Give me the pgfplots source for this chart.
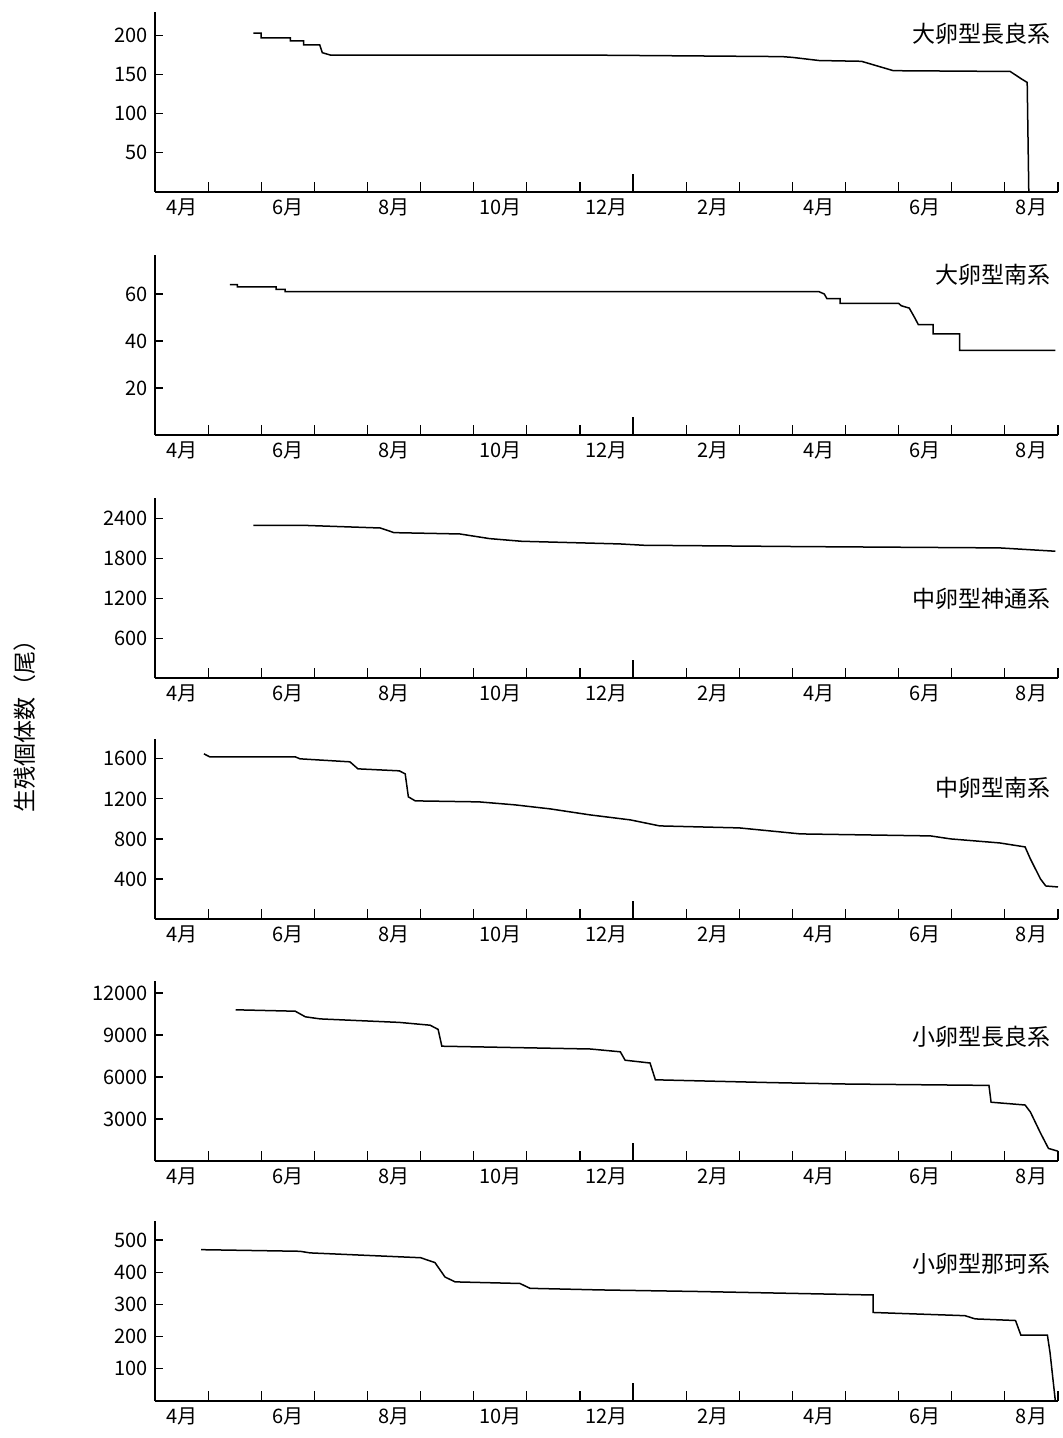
\documentclass[border=0pt]{standalone}
\usepackage{pgfplots}
\pgfplotsset{compat=1.18}
\usepackage{fontspec}
\setmainfont{Noto Sans CJK JP}
\pgfplotsset{panel/.style={
  scale only axis, width=451.5pt, height=90pt,
  xmin=0, xmax=17, ymin=0,
  axis x line=bottom, axis y line=left, axis line style={-, line width=0.6pt},
  tick align=inside, tick style={black, line width=0.6pt},
  xtick={0.5,2.5,4.5,6.5,8.5,10.5,12.5,14.5,16.5},
  xticklabels={4月,6月,8月,10月,12月,2月,4月,6月,8月},
  major x tick style={draw=none},
  minor xtick={0,1,...,17},
  minor tick length=5pt,
  major tick length=4pt,
  scaled y ticks=false,
  /pgf/number format/assume math mode=true,
  /pgf/number format/1000 sep={},
  ticklabel style={font=\fontsize{10}{12}\selectfont},
}}
\tikzset{ln/.style={black, line width=0.75pt, mark=none}}
\newcommand{\lab}[2]{\node[anchor=east,font=\fontsize{11.5}{13}\selectfont] at (rel axis cs:1,#1) {#2};}
\newcommand{\tall}{\draw[line width=0.6pt] (axis cs:9,0) -- ++(0,9pt);}
\begin{document}
\begin{tikzpicture}
\begin{axis}[panel, at={(0,0)}, ymax=230, ytick={50,100,150,200}]
\addplot[ln] coordinates {(1.85,203)(2.0,203)(2.0,197)(2.55,197)(2.55,193)(2.8,193)(2.8,188)(3.1,188)(3.15,178)(3.3,175)(8,175)(11.8,173)(12.0,172)(12.5,168)(13.3,167)(13.65,160)(13.9,155)(16.1,154)(16.3,145)(16.42,140)(16.45,0)};
\lab{0.88}{大卵型長良系}\tall
\end{axis}
\begin{axis}[panel, at={(0,-121.5pt)}, ymax=76.6, ytick={20,40,60}]
\addplot[ln] coordinates {(1.41,64)(1.55,64)(1.55,63)(2.28,63)(2.28,62)(2.45,62)(2.45,61)(12.5,61)(12.6,60)(12.65,58)(12.9,58)(12.9,56)(14.0,56)(14.05,55)(14.2,54)(14.3,50)(14.37,47)(14.65,47)(14.65,43)(15.15,43)(15.15,36)(16.95,36)};
\lab{0.89}{大卵型南系}\tall
\end{axis}
\begin{axis}[panel, at={(0,-243pt)}, ymax=2712, ytick={600,1200,1800,2400}]
\addplot[ln] coordinates {(1.85,2300)(2.8,2300)(4.24,2260)(4.5,2190)(5.74,2170)(6.3,2100)(6.9,2060)(8.75,2020)(9.2,2000)(12.15,1980)(15.9,1960)(16.95,1910)};
\lab{0.44}{中卵型神通系}\tall
\end{axis}
\begin{axis}[panel, at={(0,-363.5pt)}, ymax=1798, ytick={400,800,1200,1600}]
\addplot[ln] coordinates {(0.92,1650)(1.03,1620)(2.64,1620)(2.73,1600)(3.67,1570)(3.82,1500)(4.6,1480)(4.71,1450)(4.77,1220)(4.9,1180)(6.1,1170)(6.78,1140)(7.44,1100)(8.19,1040)(8.95,990)(9.5,930)(11.0,910)(11.77,870)(12.15,850)(14.6,830)(14.98,800)(15.9,760)(16.38,720)(16.48,600)(16.67,400)(16.77,330)(17.0,320)};
\lab{0.73}{中卵型南系}\tall
\end{axis}
\begin{axis}[panel, at={(0,-484.5pt)}, ymax=12857, ytick={3000,6000,9000,12000}]
\addplot[ln] coordinates {(1.52,10800)(2.64,10700)(2.83,10300)(3.11,10150)(4.6,9900)(5.18,9700)(5.33,9400)(5.4,8200)(8.2,8000)(8.76,7800)(8.85,7200)(9.32,7000)(9.42,5800)(11.6,5600)(13.0,5500)(15.7,5400)(15.74,4200)(16.38,4000)(16.48,3500)(16.67,2000)(16.82,900)(17.0,700)};
\lab{0.69}{小卵型長良系}\tall
\end{axis}
\begin{axis}[panel, at={(0,-604.5pt)}, ymax=559, ytick={100,200,300,400,500}]
\addplot[ln] coordinates {(0.87,470)(2.73,465)(2.92,460)(5.0,445)(5.27,430)(5.46,385)(5.65,370)(6.87,365)(7.06,350)(8.38,345)(10.26,340)(13.3,330)(13.52,330)(13.52,275)(14.03,272)(15.25,265)(15.44,255)(16.2,250)(16.3,205)(16.8,205)(16.85,150)(16.95,0)};
\lab{0.76}{小卵型那珂系}\tall
\end{axis}
\node[rotate=90,font=\fontsize{11.5}{13}\selectfont] at (-65pt,-264pt) {生残個体数（尾）};
\pgfresetboundingbox
\useasboundingbox (-77.5pt,-623pt) rectangle (454pt,96pt);
\end{tikzpicture}
\end{document}
